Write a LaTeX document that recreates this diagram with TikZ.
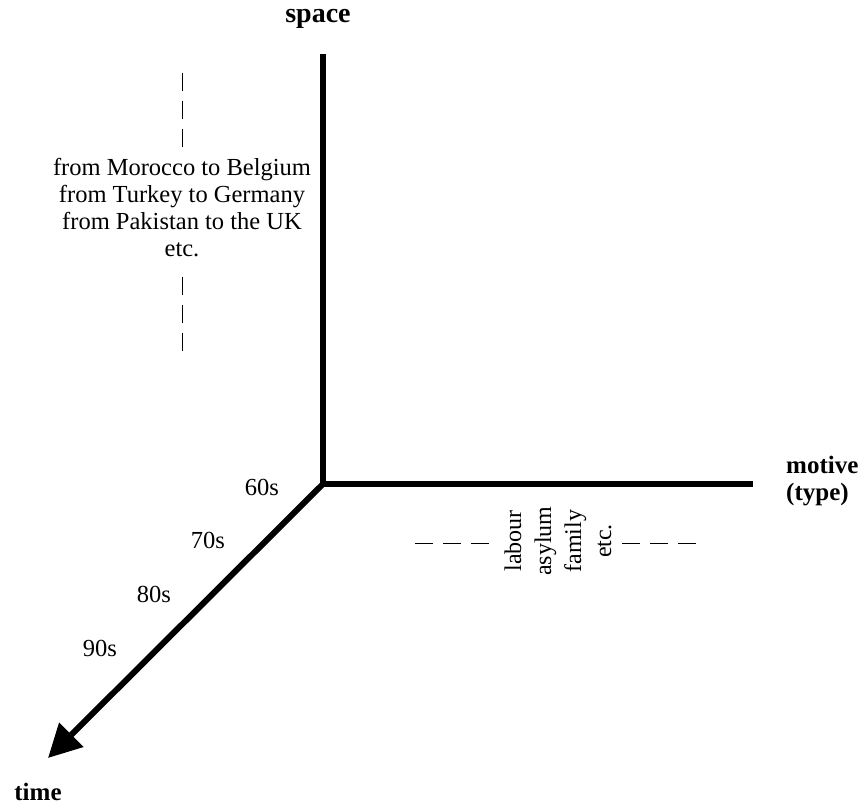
\documentclass[tikz,border=0pt]{standalone}
\usepackage{fontspec}
\setmainfont{Liberation Serif}
\usetikzlibrary{arrows.meta}

\begin{document}
\begin{tikzpicture}[x=1pt,y=-1pt]
\useasboundingbox (0,0) rectangle (860,808);
\tikzset{axis/.style={line width=6pt},
  ticks/.style={line width=1pt, dash pattern=on 18pt off 10pt},
  lbl/.style={font=\fontsize{24.5}{27}\selectfont, inner sep=0pt},
  title/.style={font=\fontsize{25}{27}\selectfont\bfseries, inner sep=0pt}}
% axes
\coordinate (O) at (323,484);
\coordinate (top) at (323,57);
\coordinate (right) at (750,484);
\coordinate (tip) at (48,758);
\draw[axis, line cap=rect] (top)--(O)--(right);
\draw[axis, -{Triangle[length=33pt,width=33pt]}] (O)--(tip);
\node[title, font=\fontsize{28}{30}\selectfont\bfseries] (space) at (318,19) {space};
\node[title, align=left, anchor=west] (motive) at (786,481) {motive\\(type)};
\node[title] (time) at (38,792) {time};
% space
\node[lbl, align=center] (route) at (182,208) {from Morocco to Belgium\\from Turkey to Germany\\from Pakistan to the UK\\etc.};
\coordinate (s1) at (182,73);
\coordinate (s2) at (182,150);
\coordinate (s3) at (182,277);
\coordinate (s4) at (182,354);
\draw[ticks] (s1)--(s2);
\draw[ticks] (s3)--(s4);
% motive
\node[lbl, align=center, rotate=90, font=\fontsize{24}{30}\selectfont] (kind) at (558,541) {labour\\asylum\\family\\etc.};
\coordinate (m1) at (415,543);
\coordinate (m2) at (492,543);
\coordinate (m3) at (622,543);
\coordinate (m4) at (699,543);
\draw[ticks] (m1)--(m2);
\draw[ticks] (m3)--(m4);
% time
\foreach \d [count=\i from 0] in {60,70,80,90}{
  \node[lbl] (dec\d) at (262-54*\i,487+53.7*\i) {\d s};
}
\end{tikzpicture}
\end{document}
